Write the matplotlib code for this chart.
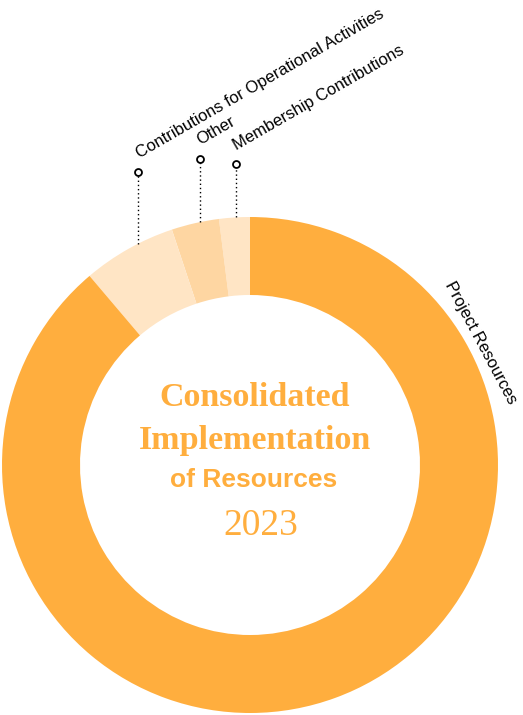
import numpy as np
import matplotlib.pyplot as plt

# shares of the consolidated implementation (percent)
labels = ["Membership Contributions", "Other",
          "Contributions for Operational Activities", "Project Resources"]
shares = [2.0, 3.1, 6.1, 88.8]
colors = ["#FFE5C5", "#FED6A2", "#FFE5C5", "#FFAE3E"]

W, H = 523, 715
cx, cy = 250, 250          # donut centre (pixel units, y up)
R, ring = 248, 78

fig = plt.figure(figsize=(W / 100, H / 100), dpi=100)
ax = fig.add_axes([0, 0, 1, 1])
ax.set_xlim(0, W)
ax.set_ylim(0, H)
ax.set_aspect("equal")
ax.axis("off")

wedges, _ = ax.pie(shares, colors=colors, startangle=90, counterclock=True,
                   center=(cx, cy), radius=R,
                   wedgeprops=dict(width=ring, linewidth=0))
ax.set_xlim(0, W)
ax.set_ylim(0, H)

# leader lines with small ring markers for the thin slices
tops = [551, 556, 543]
for w, lab, top in zip(wedges[:3], labels[:3], tops):
    mid = np.deg2rad((w.theta1 + w.theta2) / 2)
    x = cx + 0.92 * R * np.cos(mid)
    y_edge = cy + np.sqrt(R ** 2 - (x - cx) ** 2)
    ax.plot([x, x], [y_edge, top], color="black", lw=1, ls=(0, (1, 2)))
    ax.plot(x, top, "o", ms=5, mfc="white", mec="black", mew=1.3)
    ax.text(x + 1, top + 14, lab, rotation=30, rotation_mode="anchor",
            ha="left", va="baseline", fontsize=12,
            family="Liberation Sans", color="black")

# big slice label along the ring
ang = np.deg2rad(28)
ax.text(cx + (R + 13) * np.cos(ang), cy + (R + 13) * np.sin(ang), labels[3],
        rotation=-62, rotation_mode="anchor", ha="center", va="center",
        fontsize=12, family="Liberation Sans", color="black")

orange = "#FFAE3E"
ax.text(cx + 5, 715 - 398, "Consolidated", ha="center", va="center",
        fontsize=24.5, family="Liberation Serif", weight="bold", color=orange)
ax.text(cx + 5, 715 - 440, "Implementation", ha="center", va="center",
        fontsize=24.5, family="Liberation Serif", weight="bold", color=orange)
ax.text(cx + 4, 715 - 480, "of Resources", ha="center", va="center",
        fontsize=19, family="Liberation Sans", weight="bold", color=orange)
ax.text(cx + 11, 715 - 526, "2023", ha="center", va="center",
        fontsize=27, family="Liberation Serif", color=orange)

fig.savefig("out.png", dpi=100, facecolor="white")
